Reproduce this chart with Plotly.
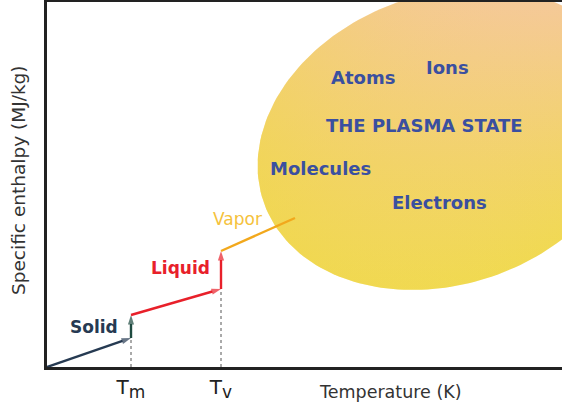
import numpy as np
import plotly.graph_objects as go

# ---- data (arbitrary units: temperature, specific enthalpy) ----
T_M = 8.4
T_V = 17.4
seg_solid_T = [0.0, 8.4];   seg_solid_H = [0.0, 2.9]
seg_melt_T = [8.4, 8.4];    seg_melt_H = [2.9, 5.2]
seg_liquid_T = [8.4, 17.4]; seg_liquid_H = [5.2, 7.8]
seg_boil_T = [17.4, 17.4];  seg_boil_H = [7.8, 11.6]
seg_vapor_T = [17.4, 24.8]; seg_vapor_H = [11.6, 14.9]
tick_vals = [T_M, T_V]
tick_text = ["T<sub><span style='font-size:17px'>m</span></sub>",
             "T<sub><span style='font-size:17px'>v</span></sub>"]
plasma_labels = ["Atoms", "Ions", "THE PLASMA STATE", "Molecules", "Electrons"]
plasma_pos_T = [31.6, 40.0, 37.7, 27.3, 39.2]
plasma_pos_H = [29.0, 30.0, 24.2, 19.9, 16.5]

# plasma region ellipse parameters
ell_cx, ell_cy, ell_a, ell_b, ell_ang = 39.9, 22.8, 19.3, 14.5, np.deg2rad(19.2)

X_MAX, Y_MAX = 51.5, 36.5
FONT = "DejaVu Sans, Arial, sans-serif"

fig = go.Figure()

t = np.linspace(0, 2 * np.pi, 200)
ex = ell_cx + ell_a * np.cos(t) * np.cos(ell_ang) - ell_b * np.sin(t) * np.sin(ell_ang)
ey = ell_cy + ell_a * np.cos(t) * np.sin(ell_ang) + ell_b * np.sin(t) * np.cos(ell_ang)
fig.add_trace(go.Scatter(
    x=ex, y=ey, mode="lines", fill="toself", line=dict(width=0),
    fillgradient=dict(type="vertical", start=ell_cy - ell_b * 1.05, stop=Y_MAX,
                      colorscale=[[0, "#f0dc48"], [0.45, "#f2d468"], [1, "#f5c998"]]),
    hoverinfo="skip", showlegend=False))
# horizontal tint overlay to give a diagonal feel
fig.add_trace(go.Scatter(
    x=ex, y=ey, mode="lines", fill="toself", line=dict(width=0),
    fillgradient=dict(type="horizontal", start=ell_cx - ell_a, stop=X_MAX,
                      colorscale=[[0, "rgba(240,215,70,0.45)"], [1, "rgba(245,200,150,0.0)"]]),
    hoverinfo="skip", showlegend=False))

# dotted guide lines
fig.add_trace(go.Scatter(x=[T_M, T_M], y=[0, seg_solid_H[1]], mode="lines",
                         line=dict(color="#555", width=1, dash="dot"), showlegend=False, hoverinfo="skip"))
fig.add_trace(go.Scatter(x=[T_V, T_V], y=[0, seg_liquid_H[1]], mode="lines",
                         line=dict(color="#555", width=1, dash="dot"), showlegend=False, hoverinfo="skip"))

def seg(xs, ys, color, arrow=True, width=2.4):
    fig.add_trace(go.Scatter(
        x=xs, y=ys, mode="lines+markers" if arrow else "lines",
        line=dict(color=color, width=width),
        marker=dict(symbol="arrow", angleref="previous", size=[0, 10] if arrow else 0,
                    color=color, line=dict(width=0)),
        showlegend=False, hoverinfo="skip", cliponaxis=False))

seg(seg_solid_T, seg_solid_H, "#263a52")
seg(seg_melt_T, seg_melt_H, "#1e4a40")
seg(seg_liquid_T, seg_liquid_H, "#e8202a")
seg(seg_boil_T, seg_boil_H, "#e8202a")
seg(seg_vapor_T, seg_vapor_H, "#f2a81c", arrow=False)

ann = []
ann.append(dict(x=4.7, y=4.0, text="<b>Solid</b>", font=dict(size=17, color="#263a52", family=FONT)))
ann.append(dict(x=13.3, y=9.9, text="<b>Liquid</b>", font=dict(size=17, color="#e8202a", family=FONT)))
ann.append(dict(x=19.0, y=14.8, text="Vapor", font=dict(size=17, color="#f5c23c", family=FONT)))
for lab, px, py in zip(plasma_labels, plasma_pos_T, plasma_pos_H):
    ann.append(dict(x=px, y=py, text="<b>%s</b>" % lab, font=dict(size=18, color="#3a4fa0", family=FONT)))
for a in ann:
    a.update(xref="x", yref="y", showarrow=False, xanchor="center", yanchor="middle")
# axis titles placed in paper coords
ann.append(dict(x=(390 - 47) / 515, y=-(392 - 367) / 365, xref="paper", yref="paper",
                text="Temperature (K)", showarrow=False, xanchor="center", yanchor="middle",
                font=dict(size=17.5, color="#333", family=FONT)))
ann.append(dict(x=-(47 - 18) / 515, y=(367 - 180) / 365, xref="paper", yref="paper",
                text="Specific enthalpy (MJ/kg)", textangle=-90, showarrow=False,
                xanchor="center", yanchor="middle", font=dict(size=18.5, color="#333", family=FONT)))
fig.update_layout(annotations=ann)

fig.update_xaxes(range=[0, X_MAX], showgrid=False, zeroline=False, showline=True, mirror=True,
                 linecolor="#222", linewidth=2.5, tickvals=tick_vals, ticktext=tick_text,
                 ticks="", tickfont=dict(size=20, color="#222", family=FONT))
fig.update_yaxes(range=[0, Y_MAX], showgrid=False, zeroline=False, showline=True, mirror=False,
                 linecolor="#222", linewidth=2.5, showticklabels=False, ticks="")
fig.update_layout(width=562, height=409, margin=dict(l=47, r=0, t=2, b=42),
                  plot_bgcolor="white", paper_bgcolor="white", showlegend=False)
fig.write_html("out.html", config={"displayModeBar": False},
               post_script="document.body.style.margin='0';")
